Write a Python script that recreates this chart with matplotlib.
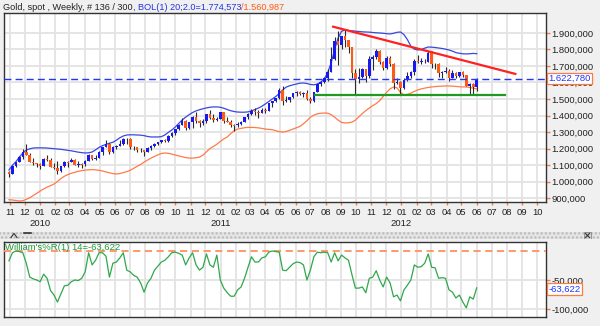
import matplotlib
matplotlib.use("Agg")
import matplotlib.pyplot as plt
import matplotlib.dates as mdates
import matplotlib.ticker as mticker
import pandas as pd
import numpy as np

# ---------------- data ----------------
week_end = pd.date_range("2009-10-30", periods=136, freq="W-FRI")

opens = [1056, 1046, 1095, 1118, 1146, 1176, 1162, 1120, 1110, 1104,
         1097, 1138, 1130, 1091, 1083, 1064, 1092, 1119, 1118, 1133,
         1103, 1106, 1105, 1125, 1161, 1136, 1142, 1180, 1209, 1228,
         1177, 1212, 1218, 1228, 1256, 1258, 1208, 1210, 1188, 1189,
         1181, 1204, 1215, 1227, 1237, 1250, 1246, 1275, 1297, 1317,
         1345, 1369, 1325, 1358, 1393, 1367, 1353, 1364, 1407, 1386,
         1375, 1380, 1421, 1369, 1360, 1343, 1340, 1348, 1360, 1388,
         1409, 1429, 1421, 1418, 1431, 1428, 1474, 1486, 1504, 1556,
         1490, 1492, 1510, 1536, 1542, 1530, 1539, 1500, 1486, 1542,
         1593, 1602, 1628, 1663, 1742, 1852, 1828, 1880, 1856, 1812,
         1657, 1624, 1636, 1683, 1642, 1743, 1755, 1788, 1724, 1686,
         1746, 1712, 1598, 1606, 1564, 1617, 1640, 1664, 1731, 1725,
         1726, 1723, 1776, 1711, 1712, 1657, 1662, 1669, 1630, 1660,
         1642, 1663, 1645, 1580, 1592, 1573]
highs = [1062, 1101, 1120, 1153, 1195, 1227, 1172, 1140, 1112, 1110,
         1140, 1162, 1142, 1111, 1123, 1096, 1124, 1125, 1140, 1137,
         1127, 1110, 1128, 1167, 1161, 1158, 1182, 1212, 1249, 1232,
         1218, 1224, 1250, 1265, 1261, 1262, 1214, 1212, 1202, 1190,
         1209, 1220, 1232, 1242, 1254, 1260, 1279, 1300, 1321, 1348,
         1387, 1372, 1363, 1398, 1424, 1372, 1379, 1412, 1431, 1407,
         1391, 1423, 1423, 1388, 1375, 1346, 1358, 1368, 1390, 1414,
         1437, 1444, 1436, 1448, 1447, 1476, 1487, 1508, 1569, 1577,
         1519, 1513, 1538, 1549, 1548, 1545, 1556, 1511, 1544, 1594,
         1610, 1632, 1681, 1814, 1878, 1912, 1884, 1920, 1859, 1813,
         1680, 1685, 1686, 1684, 1758, 1764, 1802, 1795, 1730, 1762,
         1763, 1716, 1629, 1610, 1626, 1661, 1672, 1740, 1764, 1749,
         1745, 1790, 1792, 1716, 1719, 1671, 1696, 1681, 1676, 1661,
         1665, 1669, 1648, 1597, 1595, 1628]
lows = [1026, 1044, 1090, 1116, 1136, 1160, 1118, 1098, 1087, 1075,
        1094, 1123, 1090, 1075, 1045, 1056, 1090, 1087, 1116, 1102,
        1087, 1083, 1095, 1122, 1131, 1128, 1140, 1163, 1207, 1166,
        1175, 1197, 1215, 1224, 1230, 1200, 1192, 1180, 1181, 1157,
        1177, 1192, 1212, 1223, 1236, 1240, 1238, 1271, 1284, 1313,
        1341, 1315, 1318, 1325, 1356, 1330, 1343, 1356, 1379, 1361,
        1369, 1380, 1353, 1359, 1333, 1308, 1329, 1345, 1358, 1380,
        1404, 1404, 1383, 1414, 1414, 1426, 1450, 1481, 1501, 1462,
        1479, 1482, 1507, 1521, 1523, 1515, 1496, 1478, 1481, 1541,
        1579, 1597, 1611, 1662, 1736, 1705, 1802, 1815, 1781, 1626,
        1532, 1595, 1628, 1602, 1629, 1673, 1740, 1713, 1677, 1680,
        1699, 1561, 1590, 1523, 1560, 1607, 1630, 1648, 1718, 1711,
        1716, 1722, 1688, 1684, 1634, 1628, 1655, 1612, 1627, 1628,
        1636, 1631, 1578, 1527, 1532, 1546]
closes = [1046, 1095, 1118, 1146, 1176, 1162, 1120, 1110, 1104, 1097,
          1138, 1130, 1091, 1083, 1064, 1092, 1119, 1118, 1133, 1103,
          1106, 1105, 1125, 1161, 1136, 1142, 1180, 1209, 1228, 1177,
          1212, 1218, 1228, 1256, 1258, 1208, 1210, 1188, 1189, 1181,
          1204, 1215, 1227, 1237, 1250, 1246, 1275, 1297, 1317, 1345,
          1369, 1325, 1358, 1393, 1367, 1353, 1364, 1407, 1386, 1375,
          1380, 1421, 1369, 1360, 1343, 1340, 1348, 1360, 1388, 1409,
          1429, 1421, 1418, 1431, 1428, 1474, 1486, 1504, 1556, 1490,
          1492, 1510, 1536, 1542, 1530, 1539, 1500, 1486, 1542, 1593,
          1602, 1628, 1663, 1742, 1852, 1828, 1880, 1856, 1812, 1657,
          1624, 1636, 1683, 1642, 1743, 1755, 1788, 1724, 1686, 1746,
          1712, 1598, 1606, 1564, 1617, 1640, 1664, 1731, 1725, 1726,
          1723, 1776, 1711, 1712, 1657, 1662, 1669, 1630, 1660, 1642,
          1663, 1645, 1580, 1592, 1573, 1622.78]

# Bollinger band (20; 2.0) upper / lower
boll_upper = [1070, 1098, 1120, 1148, 1172, 1191, 1198, 1203, 1204, 1204,
              1204, 1203, 1201, 1199, 1197, 1195, 1192, 1189, 1186, 1182,
              1178, 1175, 1173, 1174, 1179, 1192, 1207, 1217, 1225, 1232,
              1238, 1250, 1265, 1276, 1282, 1283, 1283, 1282, 1281, 1278,
              1273, 1270, 1270, 1270, 1272, 1282, 1298, 1312, 1330, 1352,
              1373, 1390, 1405, 1418, 1428, 1435, 1441, 1446, 1450, 1452,
              1452, 1450, 1444, 1436, 1429, 1424, 1421, 1420, 1420, 1422,
              1428, 1436, 1445, 1456, 1470, 1485, 1500, 1515, 1533, 1555,
              1572, 1580, 1586, 1591, 1596, 1597, 1594, 1588, 1586, 1590,
              1603, 1620, 1660, 1720, 1800, 1870, 1910, 1918, 1915, 1913,
              1911, 1909, 1907, 1906, 1905, 1903, 1901, 1900, 1898, 1896,
              1894, 1898, 1904, 1906, 1890, 1860, 1820, 1802, 1797, 1800,
              1808, 1815, 1814, 1812, 1809, 1806, 1802, 1797, 1790, 1781,
              1777, 1774, 1773, 1774, 1776, 1774.573]
boll_lower = [890, 888, 885, 882, 884, 892, 902, 915, 928, 942,
              955, 966, 975, 985, 1000, 1018, 1032, 1042, 1050, 1056,
              1062, 1066, 1069, 1071, 1072, 1071, 1068, 1064, 1058, 1053,
              1048, 1046, 1048, 1054, 1060, 1068, 1080, 1092, 1103, 1118,
              1130, 1142, 1152, 1162, 1170, 1173, 1171, 1166, 1161, 1155,
              1150, 1145, 1142, 1142, 1144, 1148, 1160, 1180, 1200, 1212,
              1226, 1243, 1258, 1270, 1290, 1308, 1318, 1322, 1326, 1328,
              1328, 1327, 1325, 1322, 1318, 1316, 1314, 1308, 1302, 1300,
              1303, 1310, 1318, 1326, 1334, 1350, 1368, 1390, 1402, 1410,
              1414, 1415, 1414, 1405, 1390, 1372, 1358, 1355, 1356, 1360,
              1372, 1392, 1412, 1430, 1445, 1460, 1472, 1490, 1515, 1540,
              1562, 1572, 1568, 1540, 1525, 1528, 1536, 1546, 1555, 1561,
              1566, 1570, 1573, 1575, 1577, 1578, 1579, 1579, 1578, 1576,
              1574, 1573, 1573, 1570, 1566, 1560.987]

# Williams %R (14)
williams_r = [-17, -3, 0, -1, -3, -21, -45, -48, -50, -53,
              -40, -47, -68, -76, -88, -74, -60, -59, -53, -50,
              -51, -47, -36, -3, -24, -16, -3, -3, -9, -45,
              -21, -19, -12, -3, -33, -36, -42, -45, -55, -71,
              -55, -47, -33, -26, -19, -16, -10, -3, -2, -4,
              -7, -24, -12, -3, -24, -33, -28, -5, -24, -28,
              -7, -50, -64, -72, -78, -78, -67, -62, -47, -28,
              -10, -19, -19, -12, -10, -2, 0, -1, -2, -33,
              -34, -28, -22, -19, -20, -24, -50, -33, -10, -2,
              -3, -2, -3, -19, -3, -17, -7, -12, -16, -41,
              -64, -64, -62, -72, -47, -45, -34, -50, -62, -45,
              -55, -79, -76, -86, -67, -59, -50, -24, -28, -27,
              -21, -5, -28, -29, -47, -46, -47, -67, -71, -81,
              -76, -88, -98, -79, -83, -63.622]

last_price = 1622.78
support_level = 1525
support_span = ("2011-07-10", "2012-07-28")
trend_from = ("2011-08-16", 1938)
trend_to = ("2012-08-18", 1652)

# ---------------- styling ----------------
W, H = 600, 326
BG = "#F0F0F0"
GRID = "#E3E3E3"
UP = "#1818F0"
DOWN = "#FF5A14"
ORANGE_TICK = "#FF7A3C"
FONT = ["Liberation Sans", "DejaVu Sans"]
plt.rcParams["font.family"] = FONT


def eu(v, _=None):
    s = f"{v:,.3f}"
    return s.replace(",", "#").replace(".", ",").replace("#", ".")


def frame(l, t, r, b):
    return [l / W, 1 - b / H, (r - l) / W, (b - t) / H]


fig = plt.figure(figsize=(W / 100, H / 100), dpi=100, facecolor=BG)
ax = fig.add_axes(frame(4, 13, 546, 202))
axw = fig.add_axes(frame(4, 242, 546, 317))

xmin = pd.Timestamp("2009-10-20")
xmax = pd.Timestamp("2012-10-19")

for a in (ax, axw):
    a.set_facecolor("white")
    a.set_xlim(xmin, xmax)
    a.xaxis.set_major_locator(mdates.MonthLocator())
    a.grid(True, color=GRID, lw=1.3, zorder=0)
    a.set_axisbelow(True)
    for s in a.spines.values():
        s.set_color("#333333")
        s.set_linewidth(1.0)
    a.yaxis.tick_right()
    a.tick_params(axis="y", which="both", direction="out", length=3, width=1,
                  color=ORANGE_TICK, labelsize=6.8, labelcolor="#222222", pad=1)
    a.tick_params(axis="x", which="both", direction="out", length=2.5, width=1,
                  color=ORANGE_TICK, labelsize=6.8, labelcolor="#222222", pad=2)

# ---- price panel ----
ax.set_ylim(876, 2021)
ax.yaxis.set_major_locator(mticker.FixedLocator(np.arange(900, 2000, 100)))
ax.yaxis.set_major_formatter(mticker.FuncFormatter(eu))
ax.xaxis.set_major_formatter(mdates.DateFormatter("%m"))

ax.plot(week_end, boll_upper, color="#3848E0", lw=0.9, zorder=2)
ax.plot(week_end, boll_lower, color="#FF7A48", lw=0.9, zorder=2)

o = np.array(opens, float)
c = np.array(closes, float)
ax.vlines(week_end, lows, highs, color="#2A2A2A", lw=0.8, zorder=3)
body = np.where(np.abs(c - o) < 4, np.sign(c - o + 1e-9) * 4, c - o)
cols = [UP if cc >= oo else DOWN for oo, cc in zip(o, c)]
ax.bar(week_end, body, bottom=o, width=5.2, color=cols, linewidth=0, zorder=4)

ax.axhline(last_price, color="#2035FF", lw=1.0, ls=(0, (5, 3)), zorder=5)
ax.plot(pd.to_datetime(list(support_span)), [support_level, support_level],
        color="#1E9A1E", lw=1.6, zorder=5)
ax.plot(pd.to_datetime([trend_from[0], trend_to[0]]), [trend_from[1], trend_to[1]],
        color="#FF2020", lw=1.6, zorder=5)

ax.text(1.0045, last_price, eu(last_price), transform=ax.get_yaxis_transform(),
        va="center", ha="left", fontsize=6.8, color="#2035FF", zorder=10,
        bbox=dict(boxstyle="square,pad=0.12", fc="white", ec="#FF7A3C", lw=0.9))

for yr in (2010, 2011, 2012):
    ax.text(pd.Timestamp(f"{yr}-01-01"), -(224 - 202) / 189, str(yr),
            transform=ax.get_xaxis_transform(), ha="center", va="center",
            fontsize=6.8, color="#222222")

# ---- Williams %R panel ----
axw.set_ylim(-113.8, 15.5)
axw.yaxis.set_major_locator(mticker.FixedLocator([-50, -100]))
axw.yaxis.set_major_formatter(mticker.FuncFormatter(eu))
axw.tick_params(axis="x", labelbottom=False, length=0)
axw.axhline(0, color="#FF9060", lw=1.3, ls=(0, (4, 2.5)), zorder=3)
axw.plot(week_end, williams_r, color="#2EA84C", lw=0.9, zorder=4)
axw.text(0.002, 0.93, "William's%R(1) 14=" + eu(williams_r[-1]), transform=axw.transAxes,
         ha="left", va="center", fontsize=6.8, color="#1E9A3A", zorder=6)
axw.text(1.0045, williams_r[-1] - 2, eu(williams_r[-1]), transform=axw.get_yaxis_transform(),
         va="center", ha="left", fontsize=6.8, color="#2035FF", zorder=10,
         bbox=dict(boxstyle="square,pad=0.12", fc="white", ec="#FF7A3C", lw=0.9))

# splitter strip between the panels, with its small controls
strip = fig.add_axes(frame(0, 232, 600, 239))
strip.set_xlim(0, W)
strip.set_ylim(0, 1)
strip.axis("off")
strip.add_patch(plt.Rectangle((0, 0), W, 1, facecolor="#E4E4E4", edgecolor="#B8B8B8",
                              hatch="....", lw=0))
strip.plot([11, 14, 17], [0.2, 0.8, 0.2], color="#333333", lw=0.8)
strip.plot([24, 31], [0.8, 0.8], color="#333333", lw=1.2)
strip.add_patch(plt.Rectangle((584, 0.05), 7, 0.9, facecolor="#D0D0D0", edgecolor="#888888", lw=0.6))
strip.plot([585.5, 589.5], [0.2, 0.8], color="#333333", lw=0.8)
strip.plot([585.5, 589.5], [0.8, 0.2], color="#333333", lw=0.8)

# ---- title line ----
fig.canvas.draw()
rend = fig.canvas.get_renderer()
pieces = [("Gold, spot , Weekly, # 136 / 300", "#222222"),
          (", BOL(1) 20;2.0=" + eu(boll_upper[-1]), "#2035E0"),
          ("/" + eu(boll_lower[-1]), "#FF5A14")]
xpos = 3
for txt, col in pieces:
    t = fig.text(xpos / W, 1 - 7 / H, txt, color=col, fontsize=6.6,
                 ha="left", va="center")
    xpos += t.get_window_extent(renderer=rend).width

fig.savefig("out.png", dpi=100, facecolor=BG)
